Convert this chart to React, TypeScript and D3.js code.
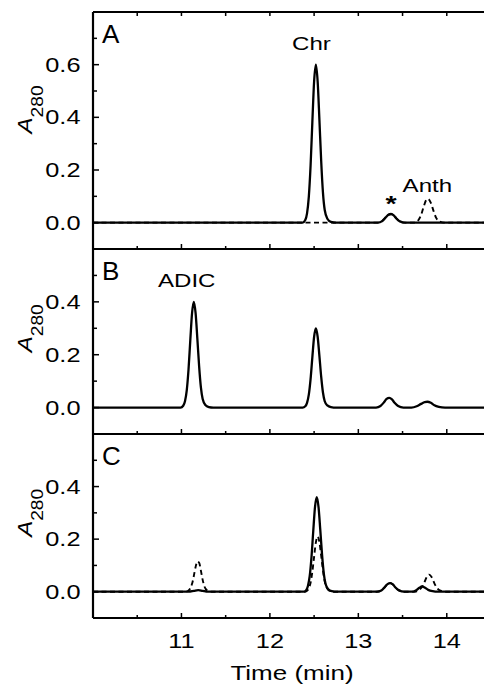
import React from "react";
import * as d3 from "d3";

const W = 484;
const H = 688;
const LEFT = 93;
const RIGHT = 491;
const FONT = "'Liberation Sans', Arial, Helvetica, sans-serif";
const STRETCH = 1.3;

// time axis
const timeDomain: [number, number] = [10, 14.5];
const timeLabels = [11, 12, 13, 14];

// panel A: solid = Chr run, dashed = Anth run
const aSolid: [number, number][] = [
  [10.0, 0], [12.37, 0], [12.40, 0.01], [12.42, 0.035], [12.44, 0.098], [12.46, 0.216],
  [12.48, 0.381], [12.50, 0.536], [12.52, 0.60], [12.54, 0.536], [12.56, 0.39], [12.58, 0.234],
  [12.60, 0.114], [12.62, 0.048], [12.65, 0.015], [12.69, 0.003], [12.75, 0],
  [13.22, 0], [13.27, 0.006], [13.31, 0.02], [13.34, 0.03], [13.37, 0.033], [13.40, 0.028],
  [13.43, 0.016], [13.47, 0.005], [13.53, 0], [14.5, 0],
];
const aDashed: [number, number][] = [
  [10.0, 0], [13.22, 0], [13.27, 0.006], [13.31, 0.02], [13.34, 0.03], [13.37, 0.033],
  [13.40, 0.028], [13.43, 0.016], [13.47, 0.005], [13.53, 0],
  [13.64, 0], [13.68, 0.01], [13.71, 0.03], [13.74, 0.062], [13.77, 0.087], [13.79, 0.09],
  [13.82, 0.075], [13.85, 0.045], [13.88, 0.018], [13.92, 0.004], [13.97, 0], [14.5, 0],
];

// panel B
const bSolid: [number, number][] = [
  [10.0, 0], [10.99, 0], [11.02, 0.007], [11.04, 0.024], [11.06, 0.065], [11.08, 0.144],
  [11.10, 0.254], [11.12, 0.357], [11.14, 0.40], [11.16, 0.357], [11.18, 0.26], [11.20, 0.156],
  [11.22, 0.076], [11.24, 0.032], [11.27, 0.01], [11.31, 0.002], [11.36, 0],
  [12.37, 0], [12.40, 0.005], [12.42, 0.018], [12.44, 0.049], [12.46, 0.108], [12.48, 0.19],
  [12.50, 0.268], [12.52, 0.30], [12.54, 0.268], [12.56, 0.195], [12.58, 0.117], [12.60, 0.057],
  [12.62, 0.024], [12.65, 0.008], [12.69, 0.002], [12.75, 0],
  [13.20, 0], [13.25, 0.006], [13.29, 0.02], [13.32, 0.033], [13.35, 0.037], [13.38, 0.031],
  [13.41, 0.018], [13.45, 0.006], [13.51, 0],
  [13.60, 0], [13.66, 0.005], [13.71, 0.014], [13.75, 0.021], [13.78, 0.022], [13.82, 0.018],
  [13.86, 0.009], [13.91, 0.003], [13.98, 0], [14.5, 0],
];

// panel C
const cSolid: [number, number][] = [
  [10.0, 0], [11.08, 0], [11.14, 0.003], [11.19, 0.006], [11.24, 0.003], [11.30, 0],
  [12.38, 0], [12.41, 0.006], [12.43, 0.022], [12.45, 0.059], [12.47, 0.13], [12.49, 0.229],
  [12.51, 0.322], [12.53, 0.36], [12.55, 0.322], [12.57, 0.234], [12.59, 0.14], [12.61, 0.068],
  [12.63, 0.029], [12.66, 0.009], [12.70, 0.002], [12.76, 0],
  [13.21, 0], [13.26, 0.005], [13.30, 0.018], [13.33, 0.029], [13.36, 0.033], [13.39, 0.028],
  [13.42, 0.016], [13.46, 0.005], [13.52, 0],
  [13.60, 0], [13.65, 0.005], [13.69, 0.015], [13.72, 0.02], [13.75, 0.016], [13.79, 0.007],
  [13.84, 0.002], [13.90, 0], [14.5, 0],
];
const cDashed: [number, number][] = [
  [10.0, 0], [11.05, 0], [11.09, 0.008], [11.12, 0.03], [11.14, 0.06], [11.16, 0.094],
  [11.18, 0.115], [11.20, 0.11], [11.22, 0.08], [11.24, 0.045], [11.26, 0.02], [11.29, 0.005], [11.34, 0],
  [12.39, 0], [12.42, 0.004], [12.44, 0.013], [12.46, 0.034], [12.48, 0.076], [12.50, 0.133],
  [12.52, 0.188], [12.54, 0.21], [12.56, 0.188], [12.58, 0.137], [12.60, 0.082], [12.62, 0.04],
  [12.64, 0.017], [12.67, 0.005], [12.72, 0],
  [13.21, 0], [13.26, 0.005], [13.30, 0.018], [13.33, 0.029], [13.36, 0.033], [13.39, 0.028],
  [13.42, 0.016], [13.46, 0.005], [13.52, 0],
  [13.64, 0], [13.68, 0.006], [13.72, 0.018], [13.75, 0.038], [13.78, 0.06], [13.80, 0.065],
  [13.83, 0.055], [13.86, 0.032], [13.89, 0.014], [13.93, 0.004], [13.98, 0], [14.5, 0],
];

const aLabels = [0, 0.2, 0.4, 0.6];
const bcLabels = [0, 0.2, 0.4];

// peak annotations: [text, time, value]
const annotations: { panel: number; text: string; t: number; v: number }[] = [
  { panel: 0, text: "Chr", t: 12.47, v: 0.655 },
  { panel: 0, text: "*", t: 13.37, v: 0.045 },
  { panel: 0, text: "Anth", t: 13.78, v: 0.118 },
  { panel: 1, text: "ADIC", t: 11.06, v: 0.455 },
];

const panels = [
  { letter: "A", top: 12, bottom: 249, domain: [-0.1, 0.8], labels: aLabels, solid: aSolid, dashed: aDashed, titleAt: 0.43 },
  { letter: "B", top: 249, bottom: 434, domain: [-0.1, 0.6], labels: bcLabels, solid: bSolid, dashed: null, titleAt: 0.3 },
  { letter: "C", top: 434, bottom: 618, domain: [-0.1, 0.6], labels: bcLabels, solid: cSolid, dashed: cDashed, titleAt: 0.3 },
];

const x = d3.scaleLinear().domain(timeDomain).range([LEFT, RIGHT]);
const halfTicks = x.ticks(9).filter((t) => t > timeDomain[0] && t < timeDomain[1]);

const Panel = ({ p, i }: { p: any; i: number }) => {
  const y = d3.scaleLinear().domain(p.domain).range([p.bottom, p.top]);
  const line = d3
    .line<[number, number]>()
    .x((d) => x(d[0]))
    .y((d) => y(d[1]))
    .curve(d3.curveMonotoneX);
  const yTicks = y.ticks(9).filter((v) => v > -1e-9 && v < p.domain[1] - 1e-9);
  const clipId = `clip-${p.letter}`;
  return (
    <g>
      <clipPath id={clipId}>
        <rect x={LEFT} y={p.top} width={RIGHT - LEFT} height={p.bottom - p.top} />
      </clipPath>
      <g clipPath={`url(#${clipId})`}>
        {p.dashed && (
          <path d={line(p.dashed) || ""} fill="none" stroke="#000" strokeWidth={1.9} strokeDasharray="5,3.5" />
        )}
        <path d={line(p.solid) || ""} fill="none" stroke="#000" strokeWidth={2.3} />
      </g>
      {/* left ticks */}
      {yTicks.map((v) => {
        const major = p.labels.some((l: number) => Math.abs(l - v) < 1e-6);
        return <line key={v} x1={LEFT} x2={LEFT + (major ? 6 : 4)} y1={y(v)} y2={y(v)} stroke="#000" strokeWidth={1.5} />;
      })}
      {p.labels.map((v: number) => (
        <text
          key={v}
          transform={`translate(80.5,${y(v) + 7}) scale(${STRETCH},1)`}
          textAnchor="end"
          fontFamily={FONT}
          fontSize={19.5}
        >
          {v.toFixed(1)}
        </text>
      ))}
      {/* bottom ticks pointing up */}
      {halfTicks.map((t) => {
        const major = Number.isInteger(t);
        return <line key={t} x1={x(t)} x2={x(t)} y1={p.bottom} y2={p.bottom - (major ? 5 : 3)} stroke="#000" strokeWidth={1.5} />;
      })}
      {i === 0 &&
        halfTicks.map((t) => (
          <line key={`t${t}`} x1={x(t)} x2={x(t)} y1={p.top} y2={p.top + 4} stroke="#000" strokeWidth={1.5} />
        ))}
      {/* panel frame */}
      <line x1={LEFT} x2={W + 5} y1={p.top} y2={p.top} stroke="#000" strokeWidth={2.2} />
      <line x1={LEFT} x2={W + 5} y1={p.bottom} y2={p.bottom} stroke="#000" strokeWidth={2.2} />
      <line x1={LEFT} x2={LEFT} y1={p.top} y2={p.bottom} stroke="#000" strokeWidth={2.2} />
      {/* panel letter */}
      <text x={102} y={p.top + 31} fontFamily={FONT} fontSize={26}>
        {p.letter}
      </text>
      {/* y title */}
      <text transform={`translate(32,${y(p.titleAt)}) rotate(-90) scale(1.2,1)`} textAnchor="middle" fontFamily={FONT}>
        <tspan fontSize={20} fontStyle="italic">A</tspan>
        <tspan fontSize={16} dy={11}>280</tspan>
      </text>
      {annotations
        .filter((a) => a.panel === i)
        .map((a) => (
          <text
            key={a.text}
            transform={`translate(${x(a.t)},${y(a.v)}) scale(${STRETCH},1)`}
            textAnchor="middle"
            fontFamily={FONT}
            fontSize={a.text === "*" ? 22 : 18.5}
            fontWeight={a.text === "*" ? "bold" : "normal"}
          >
            {a.text}
          </text>
        ))}
    </g>
  );
};

export default function App() {
  const last = panels[panels.length - 1];
  return (
    <svg width={W} height={H} style={{ position: "absolute", left: 0, top: 0, background: "#fff" }}>
      <rect width={W} height={H} fill="#fff" />
      {panels.map((p, i) => (
        <Panel key={p.letter} p={p} i={i} />
      ))}
      {timeLabels.map((t) => (
        <text
          key={t}
          transform={`translate(${x(t)},${last.bottom + 30}) scale(${STRETCH},1)`}
          textAnchor="middle"
          fontFamily={FONT}
          fontSize={19.5}
        >
          {t}
        </text>
      ))}
      <text
        transform={`translate(${(LEFT + RIGHT) / 2},${last.bottom + 62}) scale(${STRETCH},1)`}
        textAnchor="middle"
        fontFamily={FONT}
        fontSize={20}
      >
        Time (min)
      </text>
    </svg>
  );
}
